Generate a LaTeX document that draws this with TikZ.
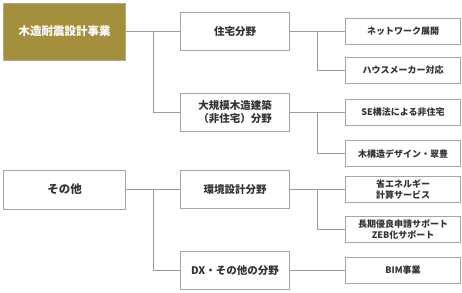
\documentclass[tikz,border=0pt]{standalone}
\usepackage{fontspec}
\setmainfont{Noto Sans CJK JP}
\usepackage{tikz}
\usetikzlibrary{positioning}
\definecolor{bizolive}{HTML}{A38F3C}
\definecolor{boxgrey}{HTML}{A6A6A6}
\definecolor{linegrey}{HTML}{9C9C9C}
\definecolor{txtgrey}{HTML}{333333}
\tikzset{
  topbox/.style   = {draw=boxgrey, line width=1pt, minimum width=122pt, inner sep=2pt,
                     align=center, font=\bfseries\fontsize{11.5}{13}\selectfont, text=txtgrey},
  fieldbox/.style = {draw=boxgrey, line width=1pt, minimum width=109pt, minimum height=38pt,
                     inner sep=2pt, align=center, font=\bfseries\fontsize{10.5}{13}\selectfont, text=txtgrey},
  itembox/.style  = {draw=boxgrey, line width=1pt, minimum width=115pt, minimum height=26pt,
                     inner sep=1.5pt, align=center, font=\bfseries\fontsize{9}{11}\selectfont, text=txtgrey},
  wire/.style     = {draw=linegrey, line width=1pt},
}
\begin{document}
\begin{tikzpicture}[node distance=42pt and 54pt]
  \useasboundingbox (0,0) rectangle (462pt,-292pt);
  % top level
  \node[topbox, minimum height=57pt, fill=bizolive, text=white] (biz) at (64.5pt,-31.5pt) {木造耐震設計事業};
  \node[topbox, minimum height=39pt, below=109pt of biz] (sonota) {その他};
  % fields
  \node[fieldbox, right=54pt of biz] (jutaku) {住宅分野};
  \node[fieldbox, below=of jutaku] (ogata) {大規模木造建築\\（非住宅）分野};
  \node[fieldbox, right=54pt of sonota] (kankyo) {環境設計分野};
  \node[fieldbox, below=of kankyo] (dx) {DX・その他の分野};
  % items
  \node[itembox, right=55pt of jutaku] (net) {ネットワーク展開};
  \node[itembox, below=12pt of net] (house) {ハウスメーカー対応};
  \node[itembox, right=55pt of ogata] (se) {SE構法による非住宅};
  \node[itembox, below=14pt of se] (mokko) {木構造デザイン・翠豊};
  \node[itembox, right=55pt of kankyo] (shoene) {省エネルギー\\計算サービス};
  \node[itembox, below=13pt of shoene] (choki) {長期優良申請サポート\\ZEB化サポート};
  \node[itembox, right=55pt of dx] (bim) {BIM事業};
  % connectors
  \draw[wire] (biz.east) -- (jutaku.west);
  \draw[wire] (biz.east) ++(27pt,0) |- (ogata.west);
  \draw[wire] (sonota.east) -- (kankyo.west);
  \draw[wire] (sonota.east) ++(27pt,0) |- (dx.west);
  \draw[wire] (jutaku.east) -- (net.west);
  \draw[wire] (jutaku.east) ++(27.5pt,0) |- (house.west);
  \draw[wire] (ogata.east) -- (se.west);
  \draw[wire] (ogata.east) ++(27.5pt,0) |- (mokko.west);
  \draw[wire] (kankyo.east) -- (shoene.west);
  \draw[wire] (kankyo.east) ++(27.5pt,0) |- (choki.west);
  \draw[wire] (dx.east) -- (bim.west);
\end{tikzpicture}
\end{document}
